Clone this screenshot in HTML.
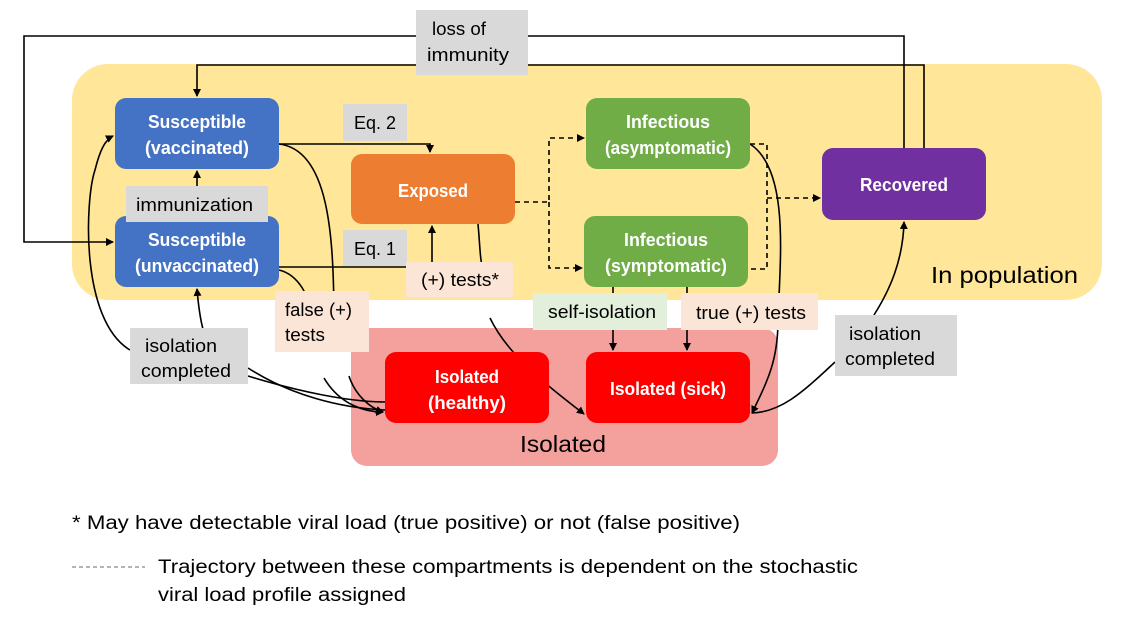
<!DOCTYPE html>
<html><head><meta charset="utf-8"><style>
html,body{margin:0;padding:0;background:#fff;}
svg{display:block;font-family:"Liberation Sans",sans-serif;}
</style></head><body>
<svg width="1121" height="622" viewBox="0 0 1121 622" xmlns="http://www.w3.org/2000/svg">
<defs>
<marker id="a" markerWidth="8" markerHeight="8" refX="7" refY="4" orient="auto" markerUnits="userSpaceOnUse"><path d="M0,0 L8,4 L0,8 z" fill="#000"/></marker>
</defs>
<rect x="72" y="64" width="1030" height="236" rx="36" fill="#FFE699"/>
<rect x="351" y="328" width="427" height="138" rx="16" fill="#F4A09C"/>
<text x="931" y="283" font-size="23" fill="#000" textLength="147" lengthAdjust="spacingAndGlyphs">In population</text>
<text x="520" y="452" font-size="23" fill="#000" textLength="86" lengthAdjust="spacingAndGlyphs">Isolated</text>

<g fill="none" stroke="#000" stroke-width="1.6">
<polyline points="904,148 904,36 24,36 24,242 113,242" marker-end="url(#a)"/>
<polyline points="924,149 924,65 197,65 197,96" marker-end="url(#a)"/>
<line x1="197" y1="186" x2="197" y2="171" marker-end="url(#a)"/>
<polyline points="279,144 430,144 430,152" marker-end="url(#a)"/>
<polyline points="279,267 432,267 432,226" marker-end="url(#a)"/>
<g stroke-dasharray="5,4">
<polyline points="515,202 549,202 549,138 584,138" marker-end="url(#a)"/>
<polyline points="549,202 549,268 582,268" marker-end="url(#a)"/>
<polyline points="750,144 767,144 767,269 748,269"/>
<line x1="767" y1="198" x2="820" y2="198" marker-end="url(#a)"/>
</g>
<path d="M279,144 C330,150 333,240 334,310"/>
<path d="M279,270 C300,275 310,300 310,310"/>
<path d="M324,378 C340,405 365,412 383,412" marker-end="url(#a)"/>
<path d="M349,376 C355,395 370,408 383,412" marker-end="url(#a)"/>
<path d="M478,224 C480,245 480,262 483,268"/>
<path d="M490,318 C510,360 560,395 584,414" marker-end="url(#a)"/>
<path d="M750,144 C790,170 780,260 778,320 C778,360 768,380 752,413" marker-end="url(#a)"/>
<line x1="613" y1="287" x2="613" y2="293"/>
<line x1="613" y1="330" x2="613" y2="350" marker-end="url(#a)"/>
<line x1="687" y1="287" x2="687" y2="293"/>
<line x1="687" y1="330" x2="687" y2="350" marker-end="url(#a)"/>
<path d="M835,362 C800,395 780,412 752,413"/>
<path d="M874,315 C890,290 903,260 904,222" marker-end="url(#a)"/>
<path d="M130,350 C80,320 85,200 95,170 C100,150 105,140 113,136" marker-end="url(#a)"/>
<path d="M212,350 C205,340 200,325 197,289" marker-end="url(#a)"/>
<path d="M248,368 C290,395 340,408 385,410"/>
<path d="M248,376 C300,392 350,402 385,402"/>
</g>

<g font-size="18" fill="#fff" text-anchor="middle" font-weight="bold">
<rect x="115" y="98" width="164" height="71" rx="11" fill="#4472C4"/>
<text x="197" y="128" textLength="98" lengthAdjust="spacingAndGlyphs">Susceptible</text><text x="197" y="154" textLength="104" lengthAdjust="spacingAndGlyphs">(vaccinated)</text>
<rect x="115" y="216" width="164" height="71" rx="11" fill="#4472C4"/>
<text x="197" y="246" textLength="98" lengthAdjust="spacingAndGlyphs">Susceptible</text><text x="197" y="272" textLength="124" lengthAdjust="spacingAndGlyphs">(unvaccinated)</text>
<rect x="351" y="154" width="164" height="70" rx="11" fill="#ED7D31"/>
<text x="433" y="197" textLength="70" lengthAdjust="spacingAndGlyphs">Exposed</text>
<rect x="586" y="98" width="164" height="71" rx="11" fill="#70AD47"/>
<text x="668" y="128" textLength="84" lengthAdjust="spacingAndGlyphs">Infectious</text><text x="668" y="154" textLength="126" lengthAdjust="spacingAndGlyphs">(asymptomatic)</text>
<rect x="584" y="216" width="164" height="71" rx="11" fill="#70AD47"/>
<text x="666" y="246" textLength="84" lengthAdjust="spacingAndGlyphs">Infectious</text><text x="666" y="272" textLength="122" lengthAdjust="spacingAndGlyphs">(symptomatic)</text>
<rect x="822" y="148" width="164" height="72" rx="11" fill="#7030A0"/>
<text x="904" y="191" textLength="88" lengthAdjust="spacingAndGlyphs">Recovered</text>
<rect x="385" y="352" width="164" height="71" rx="11" fill="#FF0000"/>
<text x="467" y="383" textLength="64" lengthAdjust="spacingAndGlyphs">Isolated</text><text x="467" y="409" textLength="78" lengthAdjust="spacingAndGlyphs">(healthy)</text>
<rect x="586" y="352" width="164" height="71" rx="11" fill="#FF0000"/>
<text x="668" y="395" textLength="116" lengthAdjust="spacingAndGlyphs">Isolated (sick)</text>
</g>

<g font-size="18" fill="#000">
<rect x="416" y="10" width="112" height="65" fill="#D9D9D9"/>
<text x="432" y="35" textLength="54" lengthAdjust="spacingAndGlyphs">loss of</text><text x="427" y="61" textLength="82" lengthAdjust="spacingAndGlyphs">immunity</text>
<rect x="126" y="186" width="142" height="36" fill="#D9D9D9"/>
<text x="136" y="211" textLength="117" lengthAdjust="spacingAndGlyphs">immunization</text>
<rect x="343" y="104" width="64" height="37" fill="#D9D9D9"/>
<text x="354" y="129" textLength="42" lengthAdjust="spacingAndGlyphs">Eq. 2</text>
<rect x="343" y="230" width="64" height="36" fill="#D9D9D9"/>
<text x="354" y="255" textLength="42" lengthAdjust="spacingAndGlyphs">Eq. 1</text>
<rect x="275" y="291" width="94" height="61" fill="#FBE5D6"/>
<text x="285" y="316" textLength="67" lengthAdjust="spacingAndGlyphs">false (+)</text><text x="285" y="341" textLength="40" lengthAdjust="spacingAndGlyphs">tests</text>
<rect x="406" y="262" width="107" height="35" fill="#FBE5D6"/>
<text x="421" y="286" textLength="78" lengthAdjust="spacingAndGlyphs">(+) tests*</text>
<rect x="533" y="293" width="134" height="37" fill="#E2EFDA"/>
<text x="548" y="318" textLength="108" lengthAdjust="spacingAndGlyphs">self-isolation</text>
<rect x="681" y="293" width="137" height="37" fill="#FBE5D6"/>
<text x="696" y="319" textLength="110" lengthAdjust="spacingAndGlyphs">true (+) tests</text>
<rect x="130" y="328" width="118" height="56" fill="#D9D9D9"/>
<text x="145" y="352" textLength="72" lengthAdjust="spacingAndGlyphs">isolation</text><text x="141" y="377" textLength="90" lengthAdjust="spacingAndGlyphs">completed</text>
<rect x="835" y="315" width="122" height="61" fill="#D9D9D9"/>
<text x="849" y="340" textLength="72" lengthAdjust="spacingAndGlyphs">isolation</text><text x="845" y="365" textLength="90" lengthAdjust="spacingAndGlyphs">completed</text>
</g>

<g font-size="19" fill="#000">
<text x="72" y="529" textLength="668" lengthAdjust="spacingAndGlyphs">* May have detectable viral load (true positive) or not (false positive)</text>
<line x1="72" y1="567" x2="145" y2="567" stroke="#888" stroke-width="1.2" stroke-dasharray="4,3"/>
<text x="158" y="573" textLength="700" lengthAdjust="spacingAndGlyphs">Trajectory between these compartments is dependent on the stochastic</text>
<text x="158" y="601" textLength="248" lengthAdjust="spacingAndGlyphs">viral load profile assigned</text>
</g>
</svg>
</body></html>
